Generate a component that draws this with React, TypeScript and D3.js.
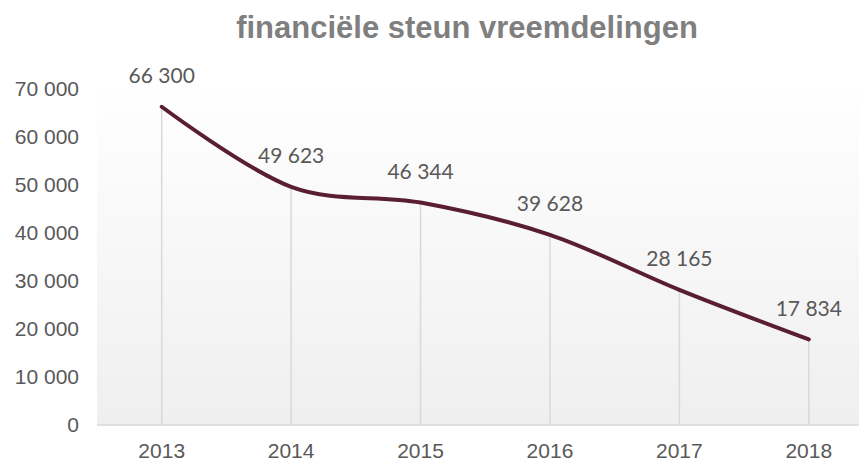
import React from "react";
import * as d3 from "d3";

const years = ["2013", "2014", "2015", "2016", "2017", "2018"];
const values = [66300, 49623, 46344, 39628, 28165, 17834];
const yTicks = [0, 10000, 20000, 30000, 40000, 50000, 60000, 70000];
const title = "financiële steun vreemdelingen";

const W = 859;
const H = 463;

const fmt = (v: number) => {
  const s = String(v);
  return s.replace(/\B(?=(\d{3})+(?!\d))/g, " ");
};

export default function App() {
  const plotLeft = 97;
  const plotRight = 873.5;
  const plotTop = 80;
  const plotBottom = 425;
  const x = d3.scaleBand<string>().domain(years).range([plotLeft, plotRight]).padding(0);
  const y = d3.scaleLinear().domain([0, 70000]).range([plotBottom, 89]);
  const cx = (d: string) => (x(d) as number) + x.bandwidth() / 2;
  const pts: [number, number][] = years.map((d, i) => [cx(d), y(values[i])]);
  const line = d3.line().curve(d3.curveCardinal.tension(0))(pts) || "";

  return (
    <svg width={W} height={H} style={{ position: "absolute", left: 0, top: 0 }}>
      <defs>
        <linearGradient id="bg" x1="0" y1="0" x2="0" y2="1">
          <stop offset="0" stopColor="#ffffff" />
          <stop offset="1" stopColor="#efefef" />
        </linearGradient>
      </defs>
      <rect x={0} y={0} width={W} height={H} fill="#ffffff" />
      <rect x={plotLeft} y={plotTop} width={plotRight - plotLeft} height={plotBottom - plotTop} fill="url(#bg)" />
      <text x={467} y={38} textAnchor="middle" fontFamily="'Liberation Sans', Arial, sans-serif" fontWeight="bold" fontSize={31} fill="#7f7f7f">
        {title}
      </text>
      {yTicks.map((t) => (
        <text key={t} x={79} y={y(t)} dy="0.35em" textAnchor="end" fontFamily="'Liberation Sans', Arial, sans-serif" fontSize={21} fill="#595959">
          {fmt(t)}
        </text>
      ))}
      {years.map((d, i) => (
        <line key={d} x1={cx(d)} x2={cx(d)} y1={y(values[i])} y2={plotBottom} stroke="#d9d9d9" strokeWidth={1.5} />
      ))}
      <line x1={plotLeft} x2={plotRight} y1={plotBottom} y2={plotBottom} stroke="#d9d9d9" strokeWidth={1.5} />
      {years.map((d) => (
        <text key={d} x={cx(d)} y={451} dy="0.35em" textAnchor="middle" fontFamily="'Liberation Sans', Arial, sans-serif" fontSize={21} fill="#595959">
          {d}
        </text>
      ))}
      <path d={line} fill="none" stroke="#5a1e34" strokeWidth={4} strokeLinecap="round" strokeLinejoin="round" />
      {years.map((d, i) => (
        <text key={d} x={cx(d)} y={y(values[i]) - 31} dy="0.35em" textAnchor="middle" fontFamily="Lato, 'Open Sans', sans-serif" fontSize={21} fill="#595959">
          {fmt(values[i])}
        </text>
      ))}
    </svg>
  );
}
